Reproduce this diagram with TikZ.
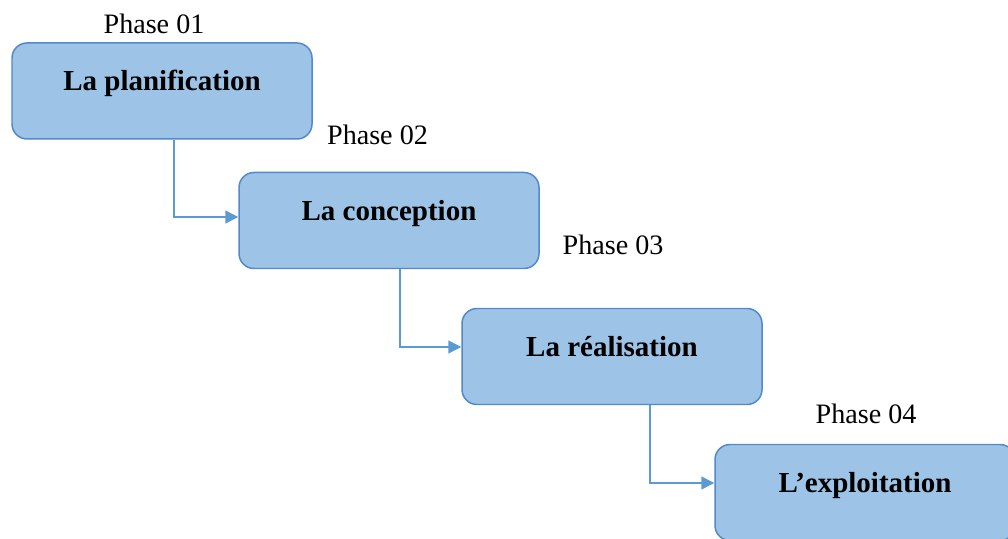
\documentclass[tikz,border=0pt]{standalone}
\usepackage{fontspec}
\setmainfont{Liberation Serif}
\usetikzlibrary{arrows.meta,positioning,calc}

\definecolor{boxfill}{HTML}{9DC3E6}
\definecolor{boxline}{HTML}{5289C8}
\definecolor{flowline}{HTML}{5B9BD5}

\begin{document}
\begin{tikzpicture}[
    >={Triangle[length=0.26cm,width=0.26cm]},
    % styles
    phasebox/.style={
        draw=boxline,
        line width=0.85pt,
        fill=boxfill,
        rounded corners=0.3cm,
        minimum width=6cm,
        inner sep=0pt,
        text height=0.96cm,
        text depth=0.96cm,
        font=\fontsize{16.5}{19}\selectfont\bfseries
    },
    phase/.style={
        anchor=base,
        inner sep=0pt,
        font=\fontsize{16}{19}\selectfont
    },
    flow/.style={
        ->,
        draw=flowline,
        line width=0.85pt
    }
]
    \useasboundingbox (0,0) rectangle (20.16,-10.78);

    % --- boxes ---
    \node[phasebox] (plan) at (3.24,-1.82) {La planification};
    \node[phasebox] (conc) at (7.78,-4.41) {La conception};
    \node[phasebox] (real) at (12.24,-7.13) {La réalisation};
    \node[phasebox] (expl) at (17.30,-9.85) {L’exploitation};

    % --- phase labels ---
    \node[phase] (p1) at ([xshift=-0.16cm,yshift=0.18cm]plan.north) {Phase 01};
    \node[phase] (p2) at ([xshift=-0.23cm,yshift=0.54cm]conc.north) {Phase 02};
    \node[phase] (p3) at ([xshift=0.02cm,yshift=1.06cm]real.north) {Phase 03};
    \node[phase] (p4) at ([xshift=0.02cm,yshift=0.40cm]expl.north) {Phase 04};

    % --- arrows ---
    \draw[flow] ([xshift=0.24cm]plan.south) |- ([yshift=0.07cm]conc.west);
    \draw[flow] ([xshift=0.22cm]conc.south) |- ([yshift=0.19cm]real.west);
    \draw[flow] ([xshift=0.76cm]real.south) |- ([yshift=0.19cm]expl.west);

\end{tikzpicture}
\end{document}
